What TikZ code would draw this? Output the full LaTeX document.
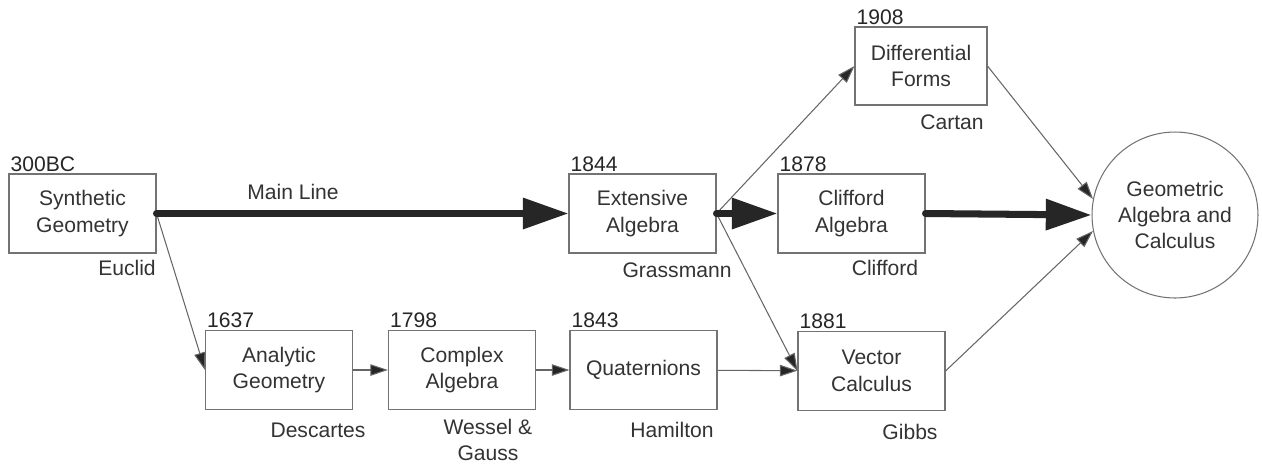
\documentclass[tikz,border=0pt]{standalone}
\usepackage{fontspec}
\setmainfont{Liberation Sans}
\usetikzlibrary{positioning,arrows.meta}
\tikzset{
  era/.style     = {draw=black!55, line width=0.6pt, align=center,
                    minimum width=2.94cm, minimum height=1.58cm, inner sep=2pt,
                    text=black!80},
  goal/.style    = {draw=black!55, line width=0.6pt, circle, align=center,
                    minimum size=3.32cm, inner sep=2pt, text=black!80},
  yr/.style      = {inner sep=1pt, text=black!85},
  who/.style     = {inner sep=0pt, align=center, text=black!80},
  thinarr/.style = {draw=black!60, line width=0.6pt,
                    -{Triangle[length=10pt,width=6.5pt,fill=black!85]}},
  mainarr/.style = {draw=black!85, line width=4pt, line cap=round,
                    -{Triangle[length=26pt,width=17pt]}},
}
\begin{document}
\begin{tikzpicture}[x=0.02cm,y=-0.02cm,font=\fontsize{12}{15}\selectfont]
  \useasboundingbox (0,0) rectangle (1262,468);
  % top row
  \node[era] (sg) at (82.5,213.5) {Synthetic\\Geometry};
  \node[era] (ea) at (642.5,213.5) {Extensive\\Algebra};
  \node[era] (ca) at (851.5,213.5) {Clifford\\Algebra};
  \node[era,minimum width=2.64cm,minimum height=1.56cm] (df) at (921,66) {Differential\\Forms};
  \node[goal] (geo) at (1175,215) {Geometric\\Algebra and\\Calculus};
  % bottom row
  \node[era] (ag) at (279,370) {Analytic\\Geometry};
  \node[era] (cx) at (462,370) {Complex\\Algebra};
  \node[era] (qt) at (643.5,370) {Quaternions};
  \node[era] (vc) at (871.5,371) {Vector\\Calculus};
  % years
  \node[yr,above right] (sg-yr) at (sg.north west) {300BC};
  \node[yr,above right] (ea-yr) at (ea.north west) {1844};
  \node[yr,above right] (ca-yr) at (ca.north west) {1878};
  \node[yr,above right] (df-yr) at (df.north west) {1908};
  \node[yr,above right] (ag-yr) at (ag.north west) {1637};
  \node[yr,above right] (cx-yr) at (cx.north west) {1798};
  \node[yr,above right] (qt-yr) at (qt.north west) {1843};
  \node[yr,above right] (vc-yr) at (vc.north west) {1881};
  % names
  \node[who] (sg-who) at (127,268) {Euclid};
  \node[who] (ea-who) at (677,270) {Grassmann};
  \node[who] (ca-who) at (885,268) {Clifford};
  \node[who] (df-who) at (952,122) {Cartan};
  \node[who] (ag-who) at (318,430) {Descartes};
  \node[who] (cx-who) at (488,440) {Wessel \&\\Gauss};
  \node[who] (qt-who) at (672,430) {Hamilton};
  \node[who] (vc-who) at (910,432) {Gibbs};
  \node[who] (ml) at (293,192) {Main Line};
  % thin links
  \draw[thinarr] (sg.east) -- (ag.west);
  \draw[thinarr] (ag) -- (cx);
  \draw[thinarr] (cx) -- (qt);
  \draw[thinarr] (qt) -- (vc);
  \draw[thinarr] (ea.east) -- (df.west);
  \draw[thinarr] (ea.east) -- (vc.west);
  \draw[thinarr] (df.east) -- (geo.169);
  \draw[thinarr] (vc.east) -- (geo.191);
  % main line
  \draw[mainarr] (sg.east) -- (ea.west);
  \draw[mainarr] (ea.east) -- (ca.west);
  \draw[mainarr] (ca.east) -- (geo.west);
\end{tikzpicture}
\end{document}
